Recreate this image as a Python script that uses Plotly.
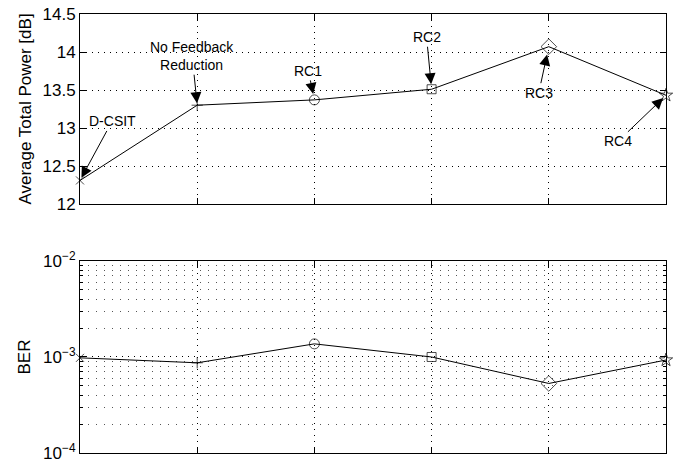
import plotly.graph_objects as go

schemes = ["D-CSIT", "No Feedback<br>Reduction", "RC1", "RC2", "RC3", "RC4"]
x_pos = [1, 2, 3, 4, 5, 6]
power_db = [12.31, 13.30, 13.37, 13.51, 14.07, 13.43]
ber = [0.98e-3, 0.87e-3, 1.37e-3, 1.0e-3, 0.53e-3, 0.93e-3]
markers = ["x-thin-open", "cross-thin-open", "circle-open", "square-open", "diamond-open", "star-open"]
marker_sizes = [8, 8, 10, 9, 12, 10]
# annotation text offsets (pixels) and standoffs
ann_ax = [32, -5, -6, -5, -10, -48]
ann_ay = [-59, -49, -29, -52, 46, 46]
ann_stand = [3, 2, 6, 5, 8, 4]

power_ticks = [12, 12.5, 13, 13.5, 14, 14.5]
ber_ticks = [1e-4, 1e-3, 1e-2]
ber_ticktext = ["10<sup>−4</sup>", "10<sup>−3</sup>", "10<sup>−2</sup>"]
ber_minor = [m * 10.0 ** e for e in (-4, -3) for m in range(2, 10)]

FONT = "Liberation Sans, Arial, Helvetica, sans-serif"

fig = go.Figure()

line_style = dict(color="black", width=1)

fig.add_trace(go.Scatter(
    x=x_pos, y=power_db, mode="lines+markers", line=line_style,
    marker=dict(symbol=markers, size=marker_sizes, color="black",
                line=dict(color="black", width=1)),
    xaxis="x", yaxis="y", showlegend=False, cliponaxis=False))

fig.add_trace(go.Scatter(
    x=x_pos, y=ber, mode="lines+markers", line=line_style,
    marker=dict(symbol=markers, size=marker_sizes, color="black",
                line=dict(color="black", width=1)),
    xaxis="x2", yaxis="y2", showlegend=False, cliponaxis=False))

for i, txt in enumerate(schemes):
    fig.add_annotation(
        x=x_pos[i], y=power_db[i], xref="x", yref="y",
        text=txt, showarrow=True, ax=ann_ax[i], ay=ann_ay[i],
        arrowhead=2, arrowsize=2.2, arrowwidth=1, arrowcolor="black",
        standoff=ann_stand[i], font=dict(family=FONT, size=14, color="black"),
        align="center")

grid_dash = "1px,5px"
common_x = dict(range=[1, 6], tickvals=x_pos, showticklabels=False,
                ticks="inside", ticklen=6, tickcolor="black",
                showline=True, linecolor="black", linewidth=1, mirror="ticks",
                showgrid=True, gridcolor="black", gridwidth=1, griddash=grid_dash,
                zeroline=False, automargin=False)

fig.update_layout(
    width=675, height=464,
    margin=dict(l=80, r=9, t=14, b=11),
    paper_bgcolor="white", plot_bgcolor="white",
    font=dict(family=FONT, size=17, color="black"),
    xaxis=dict(domain=[0, 1], anchor="y", **common_x),
    xaxis2=dict(domain=[0, 1], anchor="y2", **common_x),
    yaxis=dict(domain=[0.5672, 1.0], anchor="x", range=[12, 14.5],
               tickvals=power_ticks, ticktext=[f"{v:g}" for v in power_ticks],
               ticks="inside", ticklen=6, tickcolor="black",
               showline=True, linecolor="black", linewidth=1, mirror="ticks",
               showgrid=True, gridcolor="black", gridwidth=1, griddash=grid_dash,
               zeroline=False, automargin=False,
               title=dict(text="Average Total Power [dB]", standoff=6,
                          font=dict(size=17))),
    yaxis2=dict(domain=[0, 0.4374], anchor="x2", type="log", range=[-4, -2],
                tickvals=ber_ticks, ticktext=ber_ticktext,
                ticks="inside", ticklen=6, tickcolor="black",
                showline=True, linecolor="black", linewidth=1, mirror="ticks",
                showgrid=True, gridcolor="black", gridwidth=1, griddash=grid_dash,
                zeroline=False, automargin=False,
                minor=dict(tickvals=ber_minor, ticks="inside", ticklen=3,
                           tickcolor="black", showgrid=True,
                           gridcolor="#555555", gridwidth=1, griddash="1px,7px"),
                title=dict(text="BER", standoff=8, font=dict(size=17))),
)

fig.write_html("out.html")
